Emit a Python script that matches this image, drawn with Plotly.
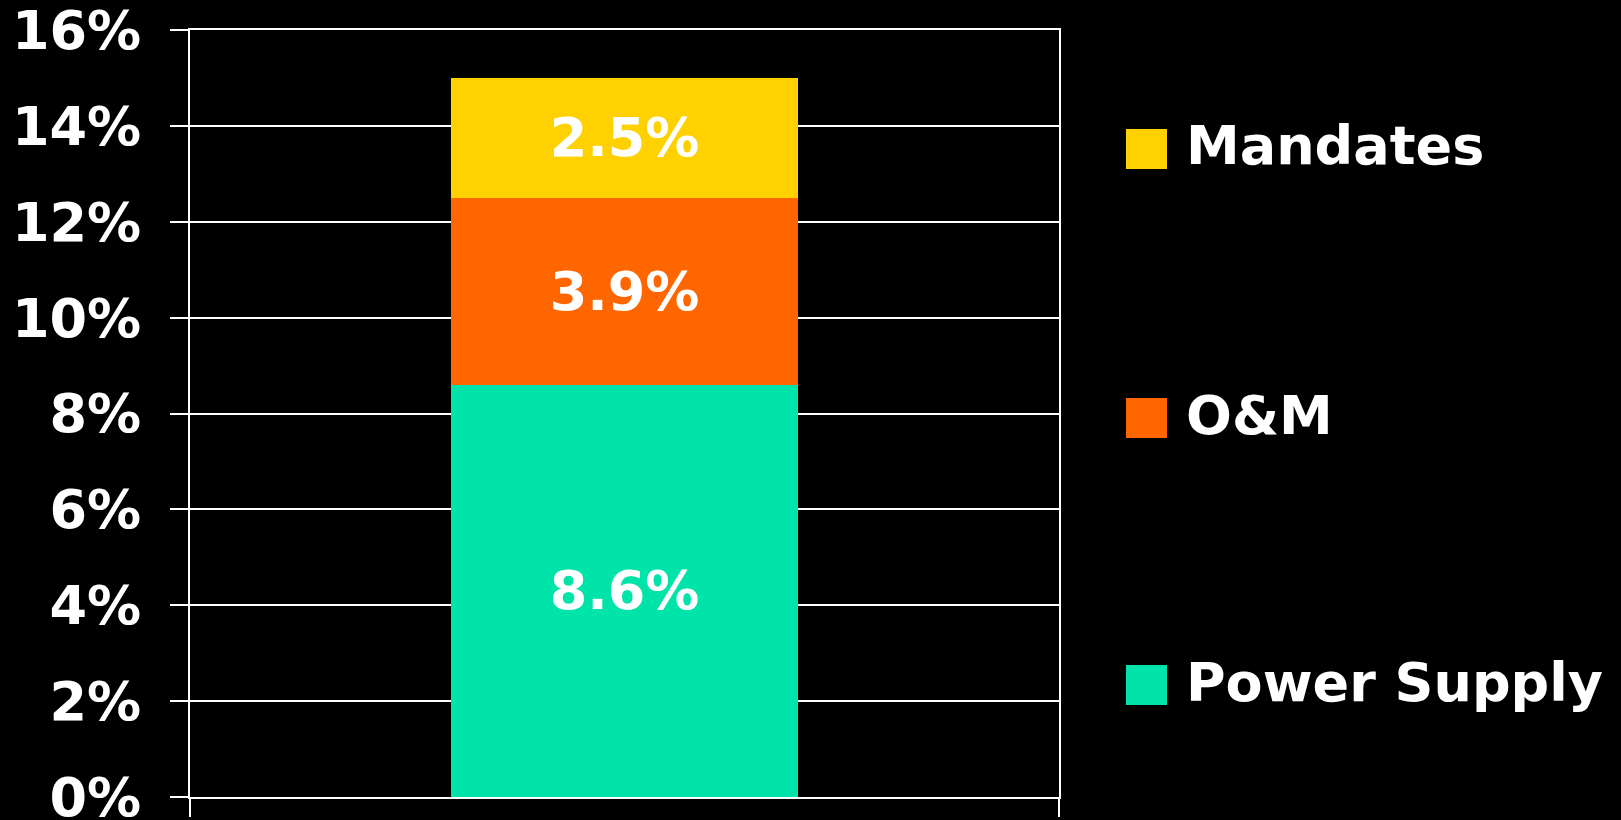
import plotly.graph_objects as go

categories = ["Total"]
series_names = ["Power Supply", "O&M", "Mandates"]
power_supply = [8.6]
om = [3.9]
mandates = [2.5]
colors = ["#00E4AA", "#FF6600", "#FFD100"]
tick_vals = [0, 2, 4, 6, 8, 10, 12, 14, 16]
tick_text = ["0%", "2%", "4%", "6%", "8%", "10%", "12%", "14%", "16%"]

W, H = 1621, 820
L, R, T, B = 190, 1059, 30, 797
FONT = "DejaVu Sans"

fig = go.Figure()
for name, vals, col in zip(series_names, [power_supply, om, mandates], colors):
    fig.add_trace(go.Bar(
        x=categories, y=vals, name=name, marker=dict(color=col, line=dict(width=0)),
        text=[f"{v:.1f}%" for v in vals], textposition="inside",
        insidetextanchor="middle", textangle=0,
        textfont=dict(family=FONT, size=54, color="white", weight="bold"),
        showlegend=False,
    ))

# manual legend (large swatches)
pw, ph = R - L, B - T
legend_centers = {"Mandates": 149, "O&M": 418, "Power Supply": 685}
for name, col in zip(series_names, colors):
    cy = legend_centers[name]
    fig.add_shape(type="rect", xref="paper", yref="paper",
                  x0=(1126 - L) / pw, x1=(1167 - L) / pw,
                  y0=(B - (cy + 20)) / ph, y1=(B - (cy - 20)) / ph,
                  fillcolor=col, line=dict(width=0))
    fig.add_annotation(xref="paper", yref="paper", x=(1184 - L) / pw, y=(B - cy + 3) / ph,
                       text=name, showarrow=False, xanchor="left", yanchor="middle",
                       font=dict(family=FONT, size=54, color="white", weight="bold"))

fig.update_layout(
    width=W, height=H,
    margin=dict(l=L, r=W - R, t=T, b=H - B, pad=0, autoexpand=False),
    paper_bgcolor="black", plot_bgcolor="black",
    barmode="stack", bargap=0.6,
    showlegend=False,
    font=dict(family=FONT, color="white", size=54, weight="bold"),
)
fig.update_yaxes(
    range=[0, 16], tickvals=tick_vals, ticktext=tick_text, automargin=False,
    showgrid=True, gridcolor="white", gridwidth=2,
    showline=True, linecolor="white", linewidth=2, mirror=True,
    ticks="outside", ticklen=18, tickcolor="white", tickwidth=2,
    ticklabelstandoff=18, ticklabeloverflow="allow", zeroline=False,
    tickfont=dict(family=FONT, size=54, color="white", weight="bold"),
)
fig.update_xaxes(
    showticklabels=False, automargin=False,
    showline=True, linecolor="white", linewidth=2, mirror=True,
    ticks="outside", tickson="boundaries", ticklen=18, tickcolor="white", tickwidth=2,
    showgrid=False,
)

fig.write_html(
    "out.html",
    config={"displayModeBar": False},
    post_script="document.body.style.margin='0';document.body.style.background='black';document.body.style.overflow='hidden';",
)
